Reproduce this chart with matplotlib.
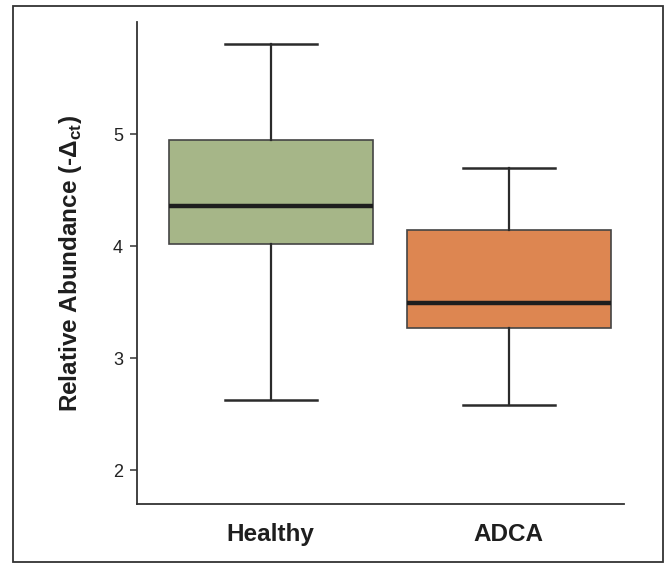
import matplotlib.pyplot as plt
from matplotlib.patches import Rectangle

# Данные (значения -ΔCt)
groups = ["Healthy", "ADCA"]
whisker_low = [2.63, 2.58]
q1 = [4.02, 3.27]
medians = [4.36, 3.49]
q3 = [4.95, 4.14]
whisker_high = [5.80, 4.70]
box_colors = ["#a6b688", "#dd8651"]
y_ticks = [2, 3, 4, 5]

plt.rcParams['font.family'] = ['Liberation Sans', 'DejaVu Sans']

fig = plt.figure(figsize=(6.71, 5.63), dpi=100)
ax = fig.add_axes([137 / 671, 1 - 504 / 563, (624 - 137) / 671, (504 - 22) / 563])

# Статистика для bxp
stats = []
for i, name in enumerate(groups):
    stats.append({
        "label": name,
        "whislo": whisker_low[i],
        "q1": q1[i],
        "med": medians[i],
        "q3": q3[i],
        "whishi": whisker_high[i],
        "fliers": [],
    })

edge = "#2b2b2b"
bp = ax.bxp(stats, positions=[1, 2], widths=0.857, patch_artist=True,
            showfliers=False, capwidths=0.387,
            boxprops=dict(edgecolor="#444444", linewidth=1.2),
            medianprops=dict(color="#1e1e1e", linewidth=3.2, solid_capstyle="butt"),
            whiskerprops=dict(color=edge, linewidth=1.6),
            capprops=dict(color=edge, linewidth=1.8))
for patch, c in zip(bp["boxes"], box_colors):
    patch.set_facecolor(c)

ax.set_xlim(0.439, 2.484)
ax.set_ylim(1.70, 6.0)
ax.set_yticks(y_ticks)
ax.set_yticklabels([str(t) for t in y_ticks], fontsize=13, color="#222222")

ax.spines["top"].set_visible(False)
ax.spines["right"].set_visible(False)
ax.spines["left"].set_color("#333333")
ax.spines["bottom"].set_color("#333333")
ax.spines["left"].set_linewidth(1.3)
ax.spines["bottom"].set_linewidth(1.3)
ax.tick_params(axis="y", direction="out", length=5, width=1.1, color="#333333", pad=5)
ax.tick_params(axis="x", length=0, pad=14)

bold_font = ['Liberation Sans', 'DejaVu Sans']
for lbl in ax.get_xticklabels():
    lbl.set_fontfamily(bold_font)
    lbl.set_fontweight("bold")
    lbl.set_fontsize(17.5)
    lbl.set_color("#1e1e1e")

ax.set_ylabel("Relative Abundance (-\u0394$_{\\mathregular{ct}}$)", family=bold_font,
              fontweight="bold", fontsize=17.5, color="#1e1e1e", labelpad=21)

# Рамка вокруг всей фигуры
fig.patches.append(Rectangle((13 / 671, 1 / 563), 650 / 671, 556 / 563,
                             transform=fig.transFigure, fill=False,
                             edgecolor="#333333", linewidth=1.3))

fig.savefig("out.png", dpi=100)
